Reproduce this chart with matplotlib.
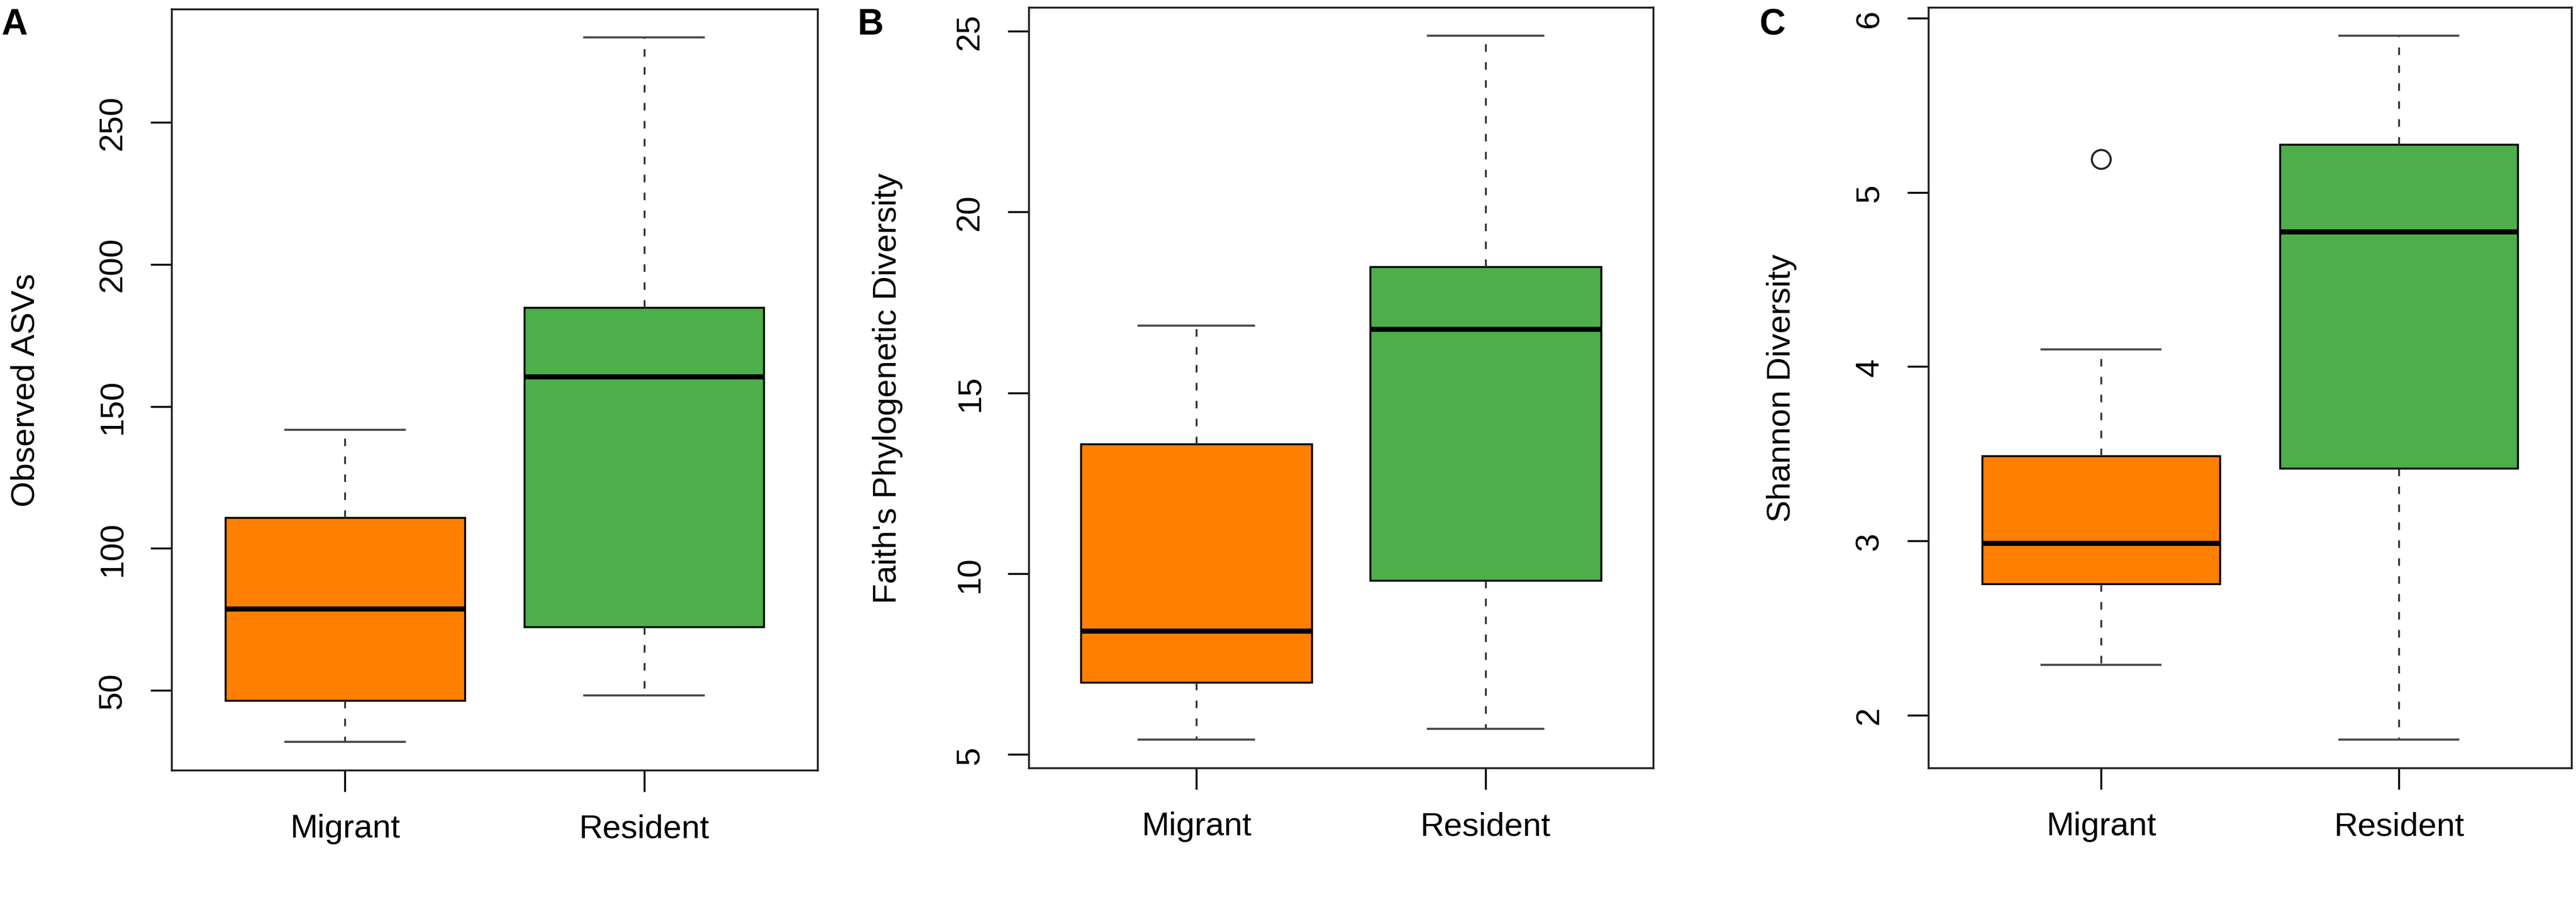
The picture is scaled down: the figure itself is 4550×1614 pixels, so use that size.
import matplotlib
matplotlib.use("Agg")
import matplotlib.pyplot as plt

plt.rcParams['font.family'] = ['Liberation Sans', 'DejaVu Sans']

groups = ["Migrant", "Resident"]
colors = ["#FF7F00", "#4DAF4A"]

# Observed ASVs: (whislo, q1, med, q3, whishi)
asv_migrant = [31.8, 46.5, 78.8, 110.8, 141.8]
asv_resident = [48.1, 72.3, 160.4, 184.8, 280.0]
asv_fliers = [[], []]

# Faith's PD
pd_migrant = [5.41, 7.0, 8.42, 13.58, 16.86]
pd_resident = [5.71, 9.81, 16.77, 18.49, 24.88]
pd_fliers = [[], []]

# Shannon
sh_migrant = [2.287, 2.754, 2.987, 3.486, 4.10]
sh_resident = [1.858, 3.416, 4.776, 5.275, 5.90]
sh_fliers = [[5.19], []]

panels = [
    ("A", "Observed ASVs", [asv_migrant, asv_resident], asv_fliers, [50, 100, 150, 200, 250]),
    ("B", "Faith's Phylogenetic Diversity", [pd_migrant, pd_resident], pd_fliers, [5, 10, 15, 20, 25]),
    ("C", "Shannon Diversity", [sh_migrant, sh_resident], sh_fliers, [2, 3, 4, 5, 6]),
]

W, H = 4550, 1615
fig = plt.figure(figsize=(W / 100, H / 100), dpi=100)

axes_px = [(303, 1444, 17, 1361), (1817, 2920, 14, 1357), (3406, 4542, 14, 1357)]
ylabel_x_px = [46, 1568, 3147]
label_px = [(2, 14), (1515, 14), (3107, 14)]

FS = 42
for (letter, ylabel, stats5, fliers, yticks), (l, r, t, b), ylx, (lx, ly) in zip(panels, axes_px, ylabel_x_px, label_px):
    ax = fig.add_axes([l / W, 1 - b / H, (r - l) / W, (b - t) / H])
    stats = []
    for name, s, f in zip(groups, stats5, fliers):
        stats.append(dict(label=name, whislo=s[0], q1=s[1], med=s[2], q3=s[3], whishi=s[4], fliers=f))
    bp = ax.bxp(stats, positions=[1, 2], widths=0.8, patch_artist=True, showfliers=True,
                boxprops=dict(linewidth=2.5, edgecolor="black"),
                medianprops=dict(color="black", linewidth=6.5, solid_capstyle="butt"),
                whiskerprops=dict(color="#333333", linewidth=2.4, linestyle=(0, (4, 5.5))),
                capprops=dict(color="#444444", linewidth=2.6),
                capwidths=0.4,
                flierprops=dict(marker="o", markerfacecolor="none", markeredgecolor="#222222",
                                markersize=24, markeredgewidth=2.6))
    for patch, c in zip(bp["boxes"], colors):
        patch.set_facecolor(c)
    allv = [v for s in stats5 for v in s] + [v for f in fliers for v in f]
    lo, hi = min(allv), max(allv)
    pad = (hi - lo) * 0.04
    ax.set_ylim(lo - pad, hi + pad)
    ax.set_xlim(0.42, 2.58)
    ax.set_yticks(yticks)
    ax.set_yticklabels([str(v) for v in yticks], rotation=90, va="center")
    ax.set_xticks([1, 2])
    ax.set_xticklabels(groups)
    ax.tick_params(axis="both", direction="out", length=27, width=2.5, labelsize=FS, colors="black")
    ax.tick_params(axis="y", pad=28)
    ax.tick_params(axis="x", pad=28)
    for sp in ax.spines.values():
        sp.set_linewidth(2.5)
        sp.set_color("#222222")
    ax.set_ylabel(ylabel, fontsize=FS)
    ax.yaxis.label.set_va("center")
    ax.yaxis.set_label_coords((ylx - l) / (r - l), 0.5)
    fig.text(lx / W, 1 - ly / H, letter, fontsize=46, fontweight="bold", ha="left", va="top")

fig.savefig("out.png", dpi=100)
